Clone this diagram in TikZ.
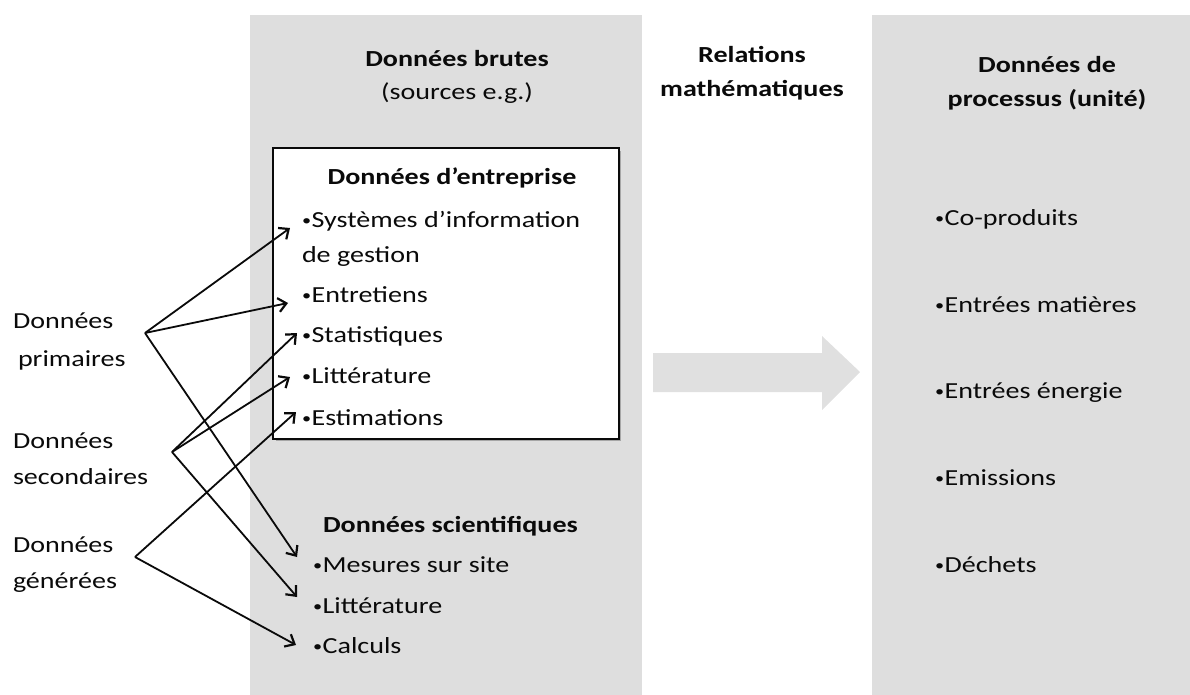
\documentclass[tikz,border=0pt]{standalone}
\usepackage{fontspec}
\setmainfont{Carlito}[FakeStretch=1.22]
\usetikzlibrary{arrows.meta}
\definecolor{panelgrey}{HTML}{DEDEDE}
\definecolor{arrowgrey}{HTML}{E0E0E0}
\definecolor{inkc}{HTML}{0A0A0A}
\newcommand{\bul}{\raisebox{0.15ex}{\fontsize{15}{15}\selectfont •}\kern0.5pt}
\tikzset{
  txt/.style={inner sep=0pt, outer sep=0pt, text=inkc, font=\fontsize{23}{28}\selectfont},
  ttl/.style={txt, font=\fontsize{23}{28}\selectfont\bfseries},
  lnk/.style={draw=inkc, line width=1.8pt, -{Straight Barb[length=8pt,width=14pt,line width=2.2pt]}},
}
\begin{document}
\begin{tikzpicture}[x=1pt,y=-1pt]
\useasboundingbox (0,0) rectangle (1190,695);
% panels
\fill[panelgrey] (250,15) rectangle (642,695);
\fill[panelgrey] (872,15) rectangle (1190,695);
% big arrow
\fill[arrowgrey] (653,353) -- (822,353) -- (822,336) -- (860,372) -- (822,410) -- (822,392) -- (653,392) -- cycle;
% box
\fill[gray!70] (276,151) rectangle (621,441);
\draw[draw=inkc, line width=1.5pt, fill=white] (273,148) rectangle (619,439);
% headings
\node[ttl, anchor=base] (hb) at (457,67) {Données brutes};
\node[txt, anchor=base] (hs) at (457,100) {(sources e.g.)};
\node[ttl, anchor=base] (hr1) at (752,63) {Relations};
\node[ttl, anchor=base] (hr2) at (752,97) {mathématiques};
\node[ttl, anchor=base] (hp1) at (1047,73) {Données de};
\node[ttl, anchor=base] (hp2) at (1047,107) {processus (unité)};
% company data
\node[ttl, anchor=base] (he) at (452,185) {Données d’entreprise};
\node[txt, anchor=base west] (sys) at (302,227) {\bul Systèmes d’information};
\node[txt, anchor=base west] (sys2) at (302,262) {de gestion};
\node[txt, anchor=base west] (ent) at (302,302) {\bul Entretiens};
\node[txt, anchor=base west] (sta) at (302,342) {\bul Statistiques};
\node[txt, anchor=base west] (lit) at (302,383) {\bul Littérature};
\node[txt, anchor=base west] (est) at (302,425) {\bul Estimations};
% scientific data
\node[ttl, anchor=base west] (hsc) at (323,532) {Données scientifiques};
\node[txt, anchor=base west] (mes) at (313,572) {\bul Mesures sur site};
\node[txt, anchor=base west] (lit2) at (313,613) {\bul Littérature};
\node[txt, anchor=base west] (cal) at (313,653) {\bul Calculs};
% process data
\node[txt, anchor=base west] (cop) at (935,225) {\bul Co-produits};
\node[txt, anchor=base west] (emat) at (935,312) {\bul Entrées matières};
\node[txt, anchor=base west] (eene) at (935,398) {\bul Entrées énergie};
\node[txt, anchor=base west] (emi) at (935,485) {\bul Emissions};
\node[txt, anchor=base west] (dec) at (935,572) {\bul Déchets};
% left labels
\node[txt, anchor=base west] (p1) at (13,328) {Données};
\node[txt, anchor=base west] (p2) at (18,366) {primaires};
\node[txt, anchor=base west] (s1) at (13,448) {Données};
\node[txt, anchor=base west] (s2) at (13,484) {secondaires};
\node[txt, anchor=base west] (g1) at (13,552) {Données};
\node[txt, anchor=base west] (g2) at (13,588) {générées};
% apexes and tips
\coordinate (aP) at (145,333);
\coordinate (aS) at (172,452);
\coordinate (aG) at (135,557);
\coordinate (tSys) at (290,228);
\coordinate (tEnt) at (288,303);
\coordinate (tSta) at (297,333);
\coordinate (tLit) at (290,377);
\coordinate (tEst) at (296,412);
\coordinate (tMes) at (297,557);
\coordinate (tLit2) at (297,597);
\coordinate (tCal) at (296,645);
% connectors
\draw[lnk] (aP) -- (tSys);
\draw[lnk] (aP) -- (tEnt);
\draw[lnk] (aP) -- (tMes);
\draw[lnk] (aS) -- (tSta);
\draw[lnk] (aS) -- (tLit);
\draw[lnk] (aS) -- (tLit2);
\draw[lnk] (aG) -- (tEst);
\draw[lnk] (aG) -- (tCal);
\end{tikzpicture}
\end{document}
